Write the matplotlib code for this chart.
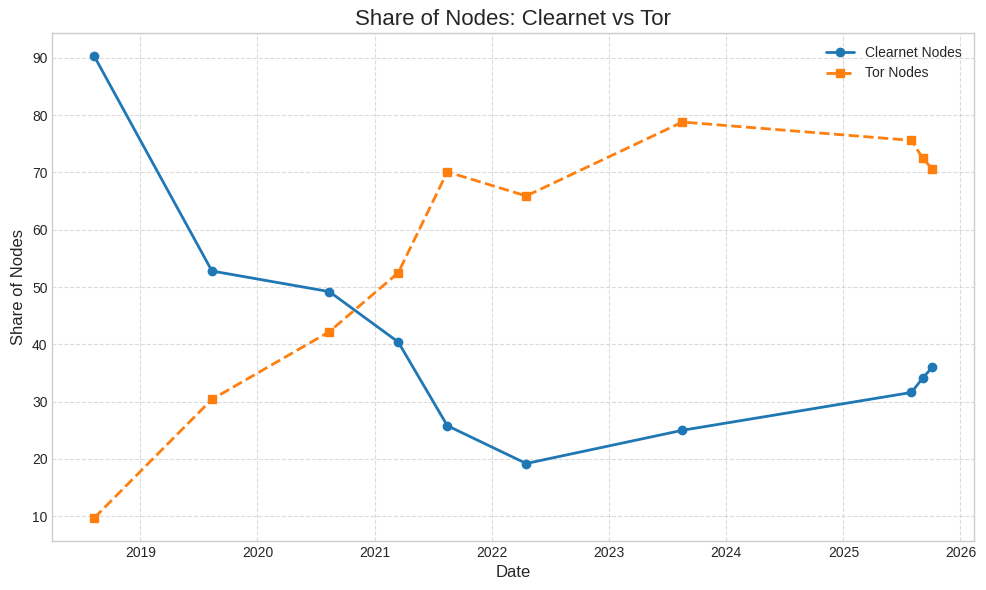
import pandas as pd
import matplotlib.pyplot as plt
import matplotlib.dates as mdates

plt.style.use('seaborn-v0_8-whitegrid')
plt.rcParams['font.family'] = ['Liberation Sans', 'DejaVu Sans']

# Snapshot dates and share of nodes (%)
dates = pd.to_datetime([
    '2018-08-10', '2019-08-12', '2020-08-12', '2021-03-15', '2021-08-15',
    '2022-04-18', '2023-08-18', '2025-08-01', '2025-09-05', '2025-10-05',
])
clearnet_share = [90.3, 52.8, 49.2, 40.4, 25.8, 19.2, 25.0, 31.6, 34.1, 36.0]
tor_share = [9.7, 30.4, 42.2, 52.5, 70.1, 65.9, 78.8, 75.6, 72.5, 70.6]

fig, ax = plt.subplots(figsize=(9.87, 5.90), dpi=100)

ax.plot(dates, clearnet_share, marker='o', linestyle='-', linewidth=2,
        color='#1f77b4', label='Clearnet Nodes')
ax.plot(dates, tor_share, marker='s', linestyle='--', linewidth=2,
        color='#ff7f0e', label='Tor Nodes')

ax.set_title('Share of Nodes: Clearnet vs Tor', fontsize=16)
ax.set_xlabel('Date', fontsize=12)
ax.set_ylabel('Share of Nodes', fontsize=12)
ax.xaxis.set_major_locator(mdates.YearLocator())
ax.xaxis.set_major_formatter(mdates.DateFormatter('%Y'))
ax.grid(True, linestyle='--', alpha=0.7)
for s in ax.spines.values():
    s.set_visible(True)
    s.set_color('#cccccc')
ax.legend()

plt.subplots_adjust(left=0.053, right=0.987, top=0.944, bottom=0.083)
plt.savefig('out.png')
